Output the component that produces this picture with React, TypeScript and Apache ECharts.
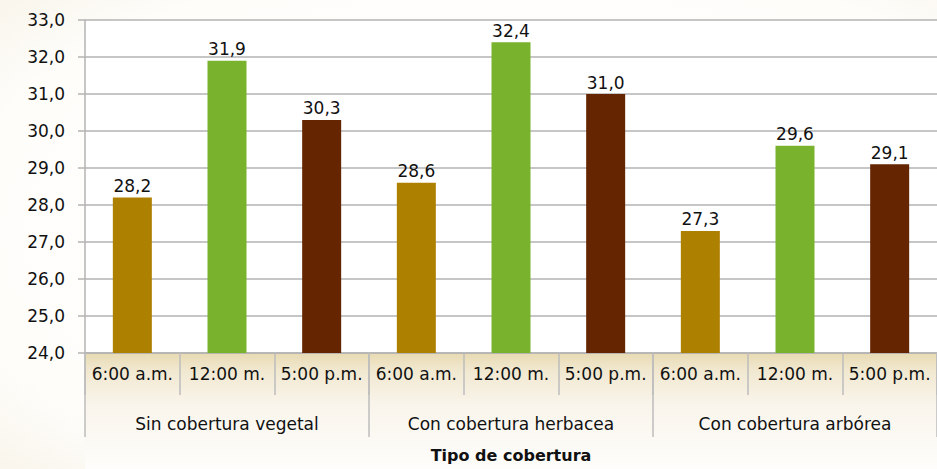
import React, { useEffect, useRef } from "react";
import * as echarts from "echarts";

const timeLabels = ["6:00 a.m.", "12:00 m.", "5:00 p.m.", "6:00 a.m.", "12:00 m.", "5:00 p.m.", "6:00 a.m.", "12:00 m.", "5:00 p.m."];
const groupLabels = ["Sin cobertura vegetal", "Con cobertura herbacea", "Con cobertura arbórea"];
const values = [28.2, 31.9, 30.3, 28.6, 32.4, 31.0, 27.3, 29.6, 29.1];
const barColors = ["#AE8000", "#79B22D", "#652500", "#AE8000", "#79B22D", "#652500", "#AE8000", "#79B22D", "#652500"];
const axisTitle = "Tipo de cobertura";
const yMin = 24;
const yMax = 33;

const FONT = "'DejaVu Sans', sans-serif";

export default function App() {
  const ref = useRef<HTMLDivElement>(null);
  useEffect(() => {
    document.body.style.margin = "0";
    if (!ref.current) return;
    const chart = echarts.init(ref.current, null, { renderer: "svg" });
    const fmt = (v: number) => v.toFixed(1).replace(".", ",");
    chart.setOption({
      animation: false,
      backgroundColor: "#ffffff",
      textStyle: { fontFamily: FONT },
      graphic: [
        {
          type: "rect",
          z: -10,
          silent: true,
          shape: { x: 0, y: 0, width: 937, height: 469 },
          style: {
            fill: new echarts.graphic.RadialGradient(0.55, 0.5, 0.8, [
              { offset: 0, color: "#ffffff" },
              { offset: 0.75, color: "#fefdfa" },
              { offset: 1, color: "#f7f2e6" },
            ]),
          },
        },
        {
          type: "rect",
          z: -9,
          silent: true,
          shape: { x: 85, y: 353, width: 852, height: 116 },
          style: {
            fill: new echarts.graphic.LinearGradient(0, 0, 0, 1, [
              { offset: 0, color: "#e8dab2" },
              { offset: 0.15, color: "#f1e8d0" },
              { offset: 0.45, color: "#f9f5ec" },
              { offset: 1, color: "#fefdfb" },
            ]),
          },
        },
        {
          type: "rect",
          z: -8,
          silent: true,
          shape: { x: 85, y: 20, width: 852, height: 333 },
          style: { fill: "#ffffff" },
        },
        {
          type: "text",
          x: 511,
          y: 455,
          z: 10,
          style: {
            text: axisTitle,
            font: `bold 16px ${FONT}`,
            fill: "#111",
            textAlign: "center",
            textVerticalAlign: "middle",
          },
        },
      ],
      grid: { left: 85, right: 0, top: 20, bottom: 116, containLabel: false },
      xAxis: [
        {
          type: "category",
          data: timeLabels,
          position: "bottom",
          axisLine: { show: true, lineStyle: { color: "#b3b3b3", width: 1.5 } },
          axisTick: { show: true, interval: 0, length: 42, lineStyle: { color: "#bdbdbd", width: 1.5 } },
          axisLabel: { interval: 0, margin: 12, color: "#111", fontSize: 17, fontFamily: FONT },
          splitLine: { show: false },
        },
        {
          type: "category",
          data: groupLabels,
          position: "bottom",
          axisLine: { show: false },
          axisTick: { show: true, interval: 0, length: 84, lineStyle: { color: "#bdbdbd", width: 1.5 } },
          axisLabel: { interval: 0, margin: 62, color: "#111", fontSize: 17, fontFamily: FONT },
          splitLine: { show: false },
        },
      ],
      yAxis: {
        type: "value",
        min: yMin,
        max: yMax,
        interval: 1,
        axisLine: { show: true, lineStyle: { color: "#b3b3b3", width: 1.5 } },
        axisTick: { show: true, length: 7, lineStyle: { color: "#b3b3b3", width: 1.5 } },
        axisLabel: { formatter: (v: number) => fmt(v), color: "#111", fontSize: 17, margin: 20, fontFamily: FONT },
        splitLine: { show: true, lineStyle: { color: "#b3b3b3", width: 1.5 } },
      },
      series: [
        {
          type: "bar",
          xAxisIndex: 0,
          barWidth: 39,
          data: values.map((v, i) => ({ value: v, itemStyle: { color: barColors[i] } })),
          label: {
            show: true,
            position: "top",
            distance: 3,
            color: "#111",
            fontSize: 17,
            fontFamily: FONT,
            formatter: (p: any) => fmt(p.value),
          },
        },
      ],
    });
    return () => chart.dispose();
  }, []);
  return <div ref={ref} style={{ width: 937, height: 469 }} />;
}
